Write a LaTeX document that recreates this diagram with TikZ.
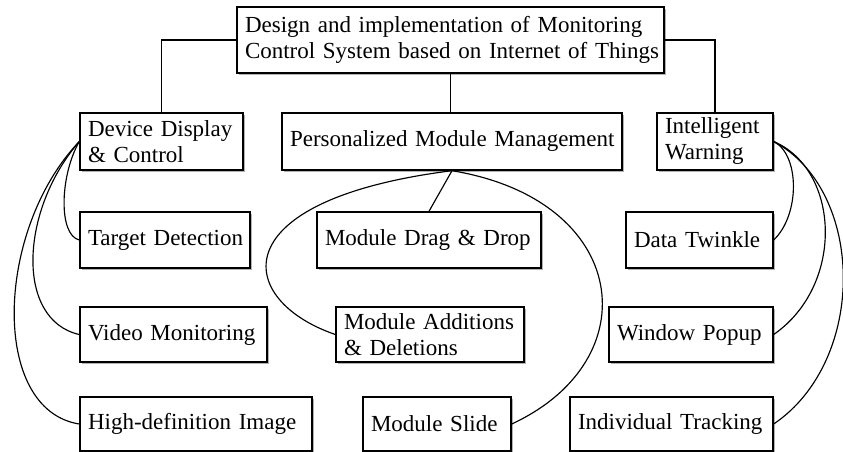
\documentclass[tikz,border=0pt]{standalone}
\usepackage{fontspec}
\setmainfont{Liberation Serif}
\usetikzlibrary{shadows}
\newcommand{\boxfont}{\fontsize{23}{26}\selectfont}
\tikzset{
  box/.style={draw, line width=1.4pt, fill=white, inner xsep=8pt, inner ysep=0pt,
    align=left, font=\boxfont,
    drop shadow={shadow xshift=1.8pt, shadow yshift=-1.8pt, fill=black, opacity=0.3}},
  link/.style={draw, line width=1.15pt},
}
\begin{document}
\begin{tikzpicture}[x=1pt,y=-1pt]
\useasboundingbox[fill=white] (0,0) rectangle (843,452);

% root
\node[box, text width=411pt, minimum height=66pt] (top) at (450.5,40)
  {\mbox{Design and implementation of Monitoring}\\\mbox{Control System based on Internet of Things}};

% second level
\node[box, text width=147pt, minimum height=57pt] (dev) at (161.5,141.5) {\mbox{Device Display}\\\mbox{\& Control}};
\node[box, text width=324pt, minimum height=57pt] (pmm) at (452,141.5) {\mbox{Personalized Module Management}};
\node[box, text width=100pt, minimum height=57pt] (iw)  at (715,141.5) {\mbox{Intelligent}\\\mbox{Warning}};

% third level
\node[box, text width=154pt, minimum height=56pt] (td)  at (165,240)   {\mbox{Target Detection}};
\node[box, text width=208pt, minimum height=56pt] (mdd) at (429,240)   {\mbox{Module Drag \& Drop}};
\node[box, text width=131pt, minimum height=56pt] (dt)  at (699.5,240) {\mbox{Data Twinkle}};

\node[box, text width=171pt, minimum height=55pt] (vm)  at (173.5,334.5) {\mbox{Video Monitoring}};
\node[box, text width=172pt, minimum height=55pt] (mad) at (430,334.5)   {\mbox{Module Additions}\\\mbox{\& Deletions}};
\node[box, text width=148pt, minimum height=55pt] (wp)  at (691,334.5)   {\mbox{Window Popup}};

\node[box, text width=216pt, minimum height=54pt] (hd)  at (196,424)   {\mbox{High-definition Image}};
\node[box, text width=132pt, minimum height=54pt] (ms)  at (437,424)   {\mbox{Module Slide}};
\node[box, text width=187pt, minimum height=54pt] (it)  at (671.5,424) {\mbox{Individual Tracking}};

% tree links from the root
\path[link] (top.west) -| (dev.north);
\path[link] (top.east) -| (iw.north);
\path[link] (top.south) -- (top.south |- pmm.north);

% Device Display & Control branch
\path[link] (dev.west) .. controls (60,175) and (58,235) .. (td.west);
\path[link] (dev.west) .. controls (20,210) and (15,320) .. (vm.west);
\path[link] (dev.west) .. controls (-5,230) and (-10,410) .. (hd.west);

% Personalized Module Management branch
\path[link] (pmm.south) -- (mdd.north);
\path[link] (pmm.south) .. controls (220,200) and (235,300) .. (mad.west);
\path[link] (pmm.south) .. controls (630,200) and (650,360) .. (ms.east);

% Intelligent Warning branch
\path[link] (iw.east) .. controls (800,155) and (800,215) .. (dt.east);
\path[link] (iw.east) .. controls (840,170) and (845,285) .. (wp.east);
\path[link] (iw.east) .. controls (865,190) and (868,360) .. (it.east);
\end{tikzpicture}
\end{document}
